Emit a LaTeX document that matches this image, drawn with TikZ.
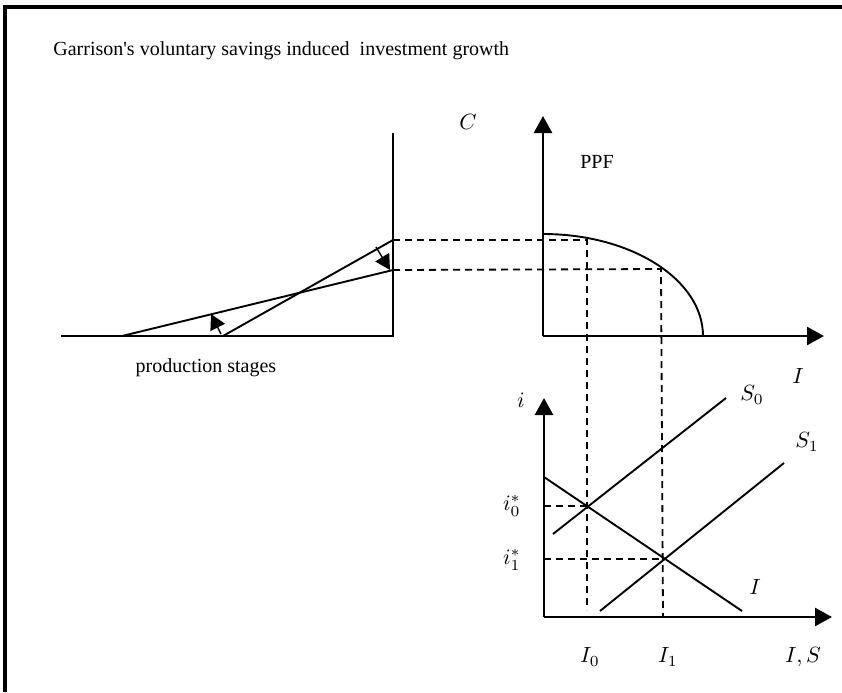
\documentclass[tikz,border=0pt]{standalone}
\usepackage{fontspec}
\setmainfont{Liberation Serif}
\usetikzlibrary{arrows.meta}
\tikzstyle{axis} = [
    line width=1.3pt,
    -{Triangle[length=8.5pt,width=9pt]}
]
\tikzstyle{curve} = [line width=0.95pt]
\tikzstyle{guide} = [
    line width=0.9pt,
    dash pattern=on 3.5pt off 2.5pt
]
\tikzstyle{shiftarrow} = [
    line width=0.7pt,
    -{Triangle[length=7.5pt,width=8pt]}
]
\tikzstyle{lbl} = [inner sep=0pt]
\tikzstyle{mathlbl} = [inner sep=0pt, scale=1.1]

\begin{document}
\begin{tikzpicture}[x=0.5pt, y=-0.5pt]

\useasboundingbox (0,0) rectangle (842,692);

% frame
\draw [line width=2pt] (5,692) -- (5,7) -- (842,7);

\node (title) [lbl, anchor=base west] at (53,55)
{Garrison\textquotesingle s voluntary savings induced\ \ investment growth};

% production stages
\coordinate (ps0) at (61,336);
\coordinate (pscorner) at (393,336);
\coordinate (pstop) at (393,133);
\coordinate (oldbase) at (223,336);
\coordinate (oldend) at (393,240);
\coordinate (newbase) at (122,336);
\coordinate (newend) at (393,270);

\draw [curve] (ps0) -- (pscorner) -- (pstop);
\draw [curve] (oldbase) -- (oldend);
\draw [curve] (newbase) -- (newend);
\draw [shiftarrow] (221,334) -- (211,314);
\draw [shiftarrow] (376,247) -- (390,270);

\node (stages) [lbl] at (206,368) {production stages};

% PPF
\coordinate (ppfO) at (543,336);
\coordinate (ppfC) at (543,116);
\coordinate (ppfI) at (824,336);
\coordinate (ppftop) at (543,234);
\coordinate (ppfA) at (587,240);
\coordinate (ppfB) at (661,269);

\draw [axis] (ppfO) -- (ppfC);
\draw [axis] (ppfO) -- (ppfI);
\draw [curve] (ppftop) arc [start angle=-90, end angle=0,
    x radius=160, y radius=102];

\node (lblC) [mathlbl] at (468,122) {$C$};
\node (lblPPF) [lbl] at (597,162) {PPF};
\node (lblI) [mathlbl] at (798,376) {$I$};

% loanable funds
\coordinate (lfO) at (544,617);
\coordinate (lfi) at (544,398);
\coordinate (lfIS) at (832,617);
\coordinate (invA) at (544,477);
\coordinate (invB) at (742,611);
\coordinate (sa0) at (553,534);
\coordinate (sb0) at (726,398);
\coordinate (sa1) at (600,611);
\coordinate (sb1) at (784,463);
\coordinate (eq0) at (587,506);
\coordinate (eq1) at (664,559);

\draw [axis] (lfO) -- (lfi);
\draw [axis] (lfO) -- (lfIS);
\draw [curve] (invA) -- (invB);
\draw [curve] (sa0) -- (sb0);
\draw [curve] (sa1) -- (sb1);

% guide lines
\draw [guide] (oldend) -- (ppfA) -- (587,610);
\draw [guide] (newend) -- (ppfB) -- (663,617);
\draw [guide] (544,506) -- (eq0);
\draw [guide] (544,559) -- (eq1);

\node (lbli) [mathlbl] at (521,400) {$i$};
\node (lblS0) [mathlbl] at (752,395) {$S_0$};
\node (lblS1) [mathlbl] at (807,442) {$S_1$};
\node (lbli0) [mathlbl] at (512,506) {$i_0^*$};
\node (lbli1) [mathlbl] at (512,560) {$i_1^*$};
\node (lblInv) [mathlbl] at (755,587) {$I$};
\node (lblI0) [mathlbl] at (590,657) {$I_0$};
\node (lblI1) [mathlbl] at (668,657) {$I_1$};
\node (lblIS) [mathlbl] at (803,657) {$I,S$};

\end{tikzpicture}
\end{document}
